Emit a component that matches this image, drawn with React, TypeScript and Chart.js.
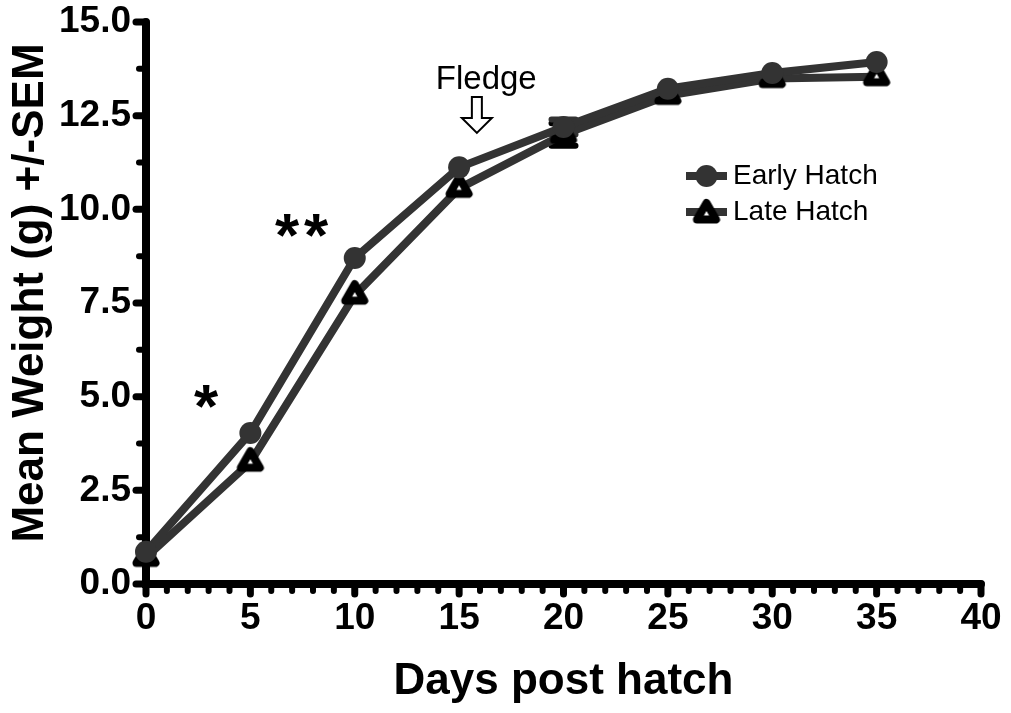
import React, { useEffect, useRef } from 'react';
import { Chart, registerables } from 'chart.js';

Chart.register(...registerables);

// Sampling days and mean body weight (g) per hatch group
const days = [0, 5, 10, 15, 20, 25, 30, 35];
const earlyHatch = [0.86, 4.03, 8.7, 11.12, 12.2, 13.22, 13.64, 13.93];
const lateHatch = [0.71, 3.25, 7.71, 10.56, 12.0, 13.04, 13.49, 13.54];
// SEM per point (0 = bar hidden under the marker)
const earlySem = [0, 0, 0, 0, 0.2, 0, 0, 0];
const lateSem = [0, 0, 0, 0, 0.3, 0, 0, 0];

const seriesNames = ['Early Hatch', 'Late Hatch'];
const xTitle = 'Days post hatch';
const yTitle = 'Mean Weight (g) +/-SEM';

// Significance marks: text, day, weight at text baseline
const sigMarks: [string, number, number][] = [
  ['*', 3, 4.2],
  ['**', 7.45, 8.75],
];
// Fledging annotation: label and arrow (day, arrow top value, arrow tip value)
const fledgeLabel = 'Fledge';
const fledgeLabelAt = [16.3, 13.2];
const fledgeArrow = [15.85, 13.0, 12.04];

const FONT = '"Liberation Sans", Arial, Helvetica, sans-serif';
const LINE_GREY = '#333333';

function makeTriangle(r: number, w: number): HTMLCanvasElement {
  const size = Math.ceil(2 * (r + w));
  const c = document.createElement('canvas');
  c.width = size;
  c.height = size;
  const g = c.getContext('2d')!;
  const cx = size / 2;
  const cy = size / 2;
  g.beginPath();
  for (let i = 0; i < 3; i++) {
    const a = (i * 2 * Math.PI) / 3;
    const px = cx + Math.sin(a) * r;
    const py = cy - Math.cos(a) * r;
    if (i === 0) g.moveTo(px, py);
    else g.lineTo(px, py);
  }
  g.closePath();
  g.fillStyle = '#ffffff';
  g.fill();
  g.lineJoin = 'round';
  g.lineWidth = w;
  g.strokeStyle = '#000000';
  g.stroke();
  return c;
}

const isMultiple = (v: number, step: number) =>
  Math.abs(v / step - Math.round(v / step)) < 1e-6;

export default function App() {
  const canvasRef = useRef<HTMLCanvasElement | null>(null);

  useEffect(() => {
    const canvas = canvasRef.current;
    if (!canvas) return;
    const tri = makeTriangle(11, 8);

    const axesPlugin = {
      id: 'axesAndErrors',
      beforeDatasetsDraw(chart: any) {
        const { ctx, chartArea, scales } = chart;
        const { left, right, top, bottom } = chartArea;
        const x = scales.x;
        const y = scales.y;
        ctx.save();
        ctx.strokeStyle = '#000';
        ctx.lineCap = 'round';
        // x ticks
        x.ticks.forEach((t: any) => {
          const px = x.getPixelForValue(t.value);
          const major = isMultiple(t.value, 5);
          ctx.lineWidth = major ? 7 : 6;
          ctx.beginPath();
          ctx.moveTo(px, bottom);
          ctx.lineTo(px, bottom + (major ? 10 : 7));
          ctx.stroke();
        });
        // y ticks
        y.ticks.forEach((t: any) => {
          const py = y.getPixelForValue(t.value);
          const major = isMultiple(t.value, 2.5);
          ctx.lineWidth = major ? 7 : 6;
          ctx.beginPath();
          ctx.moveTo(left, py);
          ctx.lineTo(left - (major ? 10 : 7), py);
          ctx.stroke();
        });
        // axis lines
        ctx.lineWidth = 8;
        ctx.lineJoin = 'miter';
        ctx.beginPath();
        ctx.moveTo(left, top);
        ctx.lineTo(left, bottom);
        ctx.lineTo(right, bottom);
        ctx.stroke();

        // SEM error bars
        const drawErr = (vals: number[], sem: number[], color: string) => {
          ctx.strokeStyle = color;
          ctx.lineWidth = 6;
          ctx.lineCap = 'round';
          days.forEach((d, i) => {
            if (!sem[i]) return;
            const px = x.getPixelForValue(d);
            const hi = y.getPixelForValue(vals[i] + sem[i]);
            const lo = y.getPixelForValue(vals[i] - sem[i]);
            ctx.beginPath();
            ctx.moveTo(px, hi);
            ctx.lineTo(px, lo);
            ctx.moveTo(px - 12, hi);
            ctx.lineTo(px + 12, hi);
            ctx.moveTo(px - 12, lo);
            ctx.lineTo(px + 12, lo);
            ctx.stroke();
          });
        };
        drawErr(lateHatch, lateSem, '#000000');
        drawErr(earlyHatch, earlySem, LINE_GREY);
        ctx.restore();
      },
    };

    const notesPlugin = {
      id: 'notes',
      afterDraw(chart: any) {
        const { ctx, scales } = chart;
        const x = scales.x;
        const y = scales.y;
        ctx.save();

        // y-axis title
        ctx.save();
        ctx.translate(31, 293);
        ctx.rotate(-Math.PI / 2);
        ctx.font = `bold 44px ${FONT}`;
        ctx.fillStyle = '#000';
        ctx.textAlign = 'center';
        ctx.textBaseline = 'middle';
        ctx.fillText(yTitle, 0, 0);
        ctx.restore();

        // significance asterisks
        ctx.save();
        ctx.fillStyle = '#000';
        ctx.font = `bold 62px ${FONT}`;
        (ctx as any).letterSpacing = '5px';
        ctx.textAlign = 'center';
        ctx.textBaseline = 'alphabetic';
        sigMarks.forEach(([txt, d, v]) => {
          ctx.fillText(txt, x.getPixelForValue(d) + (txt.length > 1 ? 2.5 : 0), y.getPixelForValue(v));
        });
        ctx.restore();

        // fledge label
        ctx.fillStyle = '#000';
        ctx.textAlign = 'center';
        ctx.textBaseline = 'alphabetic';
        ctx.font = `33px ${FONT}`;
        ctx.fillText(
          fledgeLabel,
          x.getPixelForValue(fledgeLabelAt[0]),
          y.getPixelForValue(fledgeLabelAt[1])
        );

        // hollow down arrow
        const ax = x.getPixelForValue(fledgeArrow[0]);
        const aTop = y.getPixelForValue(fledgeArrow[1]);
        const aTip = y.getPixelForValue(fledgeArrow[2]);
        const headH = 15;
        const headW = 15;
        const stemW = 5;
        ctx.beginPath();
        ctx.moveTo(ax - stemW, aTop);
        ctx.lineTo(ax + stemW, aTop);
        ctx.lineTo(ax + stemW, aTip - headH);
        ctx.lineTo(ax + headW, aTip - headH);
        ctx.lineTo(ax, aTip);
        ctx.lineTo(ax - headW, aTip - headH);
        ctx.lineTo(ax - stemW, aTip - headH);
        ctx.closePath();
        ctx.fillStyle = '#fff';
        ctx.fill();
        ctx.lineWidth = 2;
        ctx.lineJoin = 'miter';
        ctx.strokeStyle = '#000';
        ctx.stroke();

        // legend
        const lx0 = 686;
        const lx1 = 727;
        const rows = [176, 212];
        rows.forEach((ry, i) => {
          ctx.strokeStyle = LINE_GREY;
          ctx.lineWidth = 8;
          ctx.lineCap = 'butt';
          ctx.beginPath();
          ctx.moveTo(lx0, ry);
          ctx.lineTo(lx1, ry);
          ctx.stroke();
          const mx = (lx0 + lx1) / 2;
          if (i === 0) {
            ctx.fillStyle = LINE_GREY;
            ctx.beginPath();
            ctx.arc(mx, ry, 11, 0, Math.PI * 2);
            ctx.fill();
          } else {
            ctx.drawImage(tri, mx - tri.width / 2, ry + 2 - tri.height / 2);
          }
          ctx.fillStyle = '#000';
          ctx.font = `28px ${FONT}`;
          ctx.textAlign = 'left';
          ctx.textBaseline = 'middle';
          ctx.fillText(seriesNames[i], 733, ry);
        });
        ctx.restore();
      },
    };

    const chart = new Chart(canvas, {
      type: 'line',
      data: {
        labels: days,
        datasets: [
          {
            label: seriesNames[0],
            data: days.map((d, i) => ({ x: d, y: earlyHatch[i] })),
            borderColor: LINE_GREY,
            borderWidth: 8,
            backgroundColor: LINE_GREY,
            pointStyle: 'circle',
            pointRadius: 11,
            pointBorderWidth: 0,
            pointBackgroundColor: LINE_GREY,
            tension: 0,
            clip: false as any,
          },
          {
            label: seriesNames[1],
            data: days.map((d, i) => ({ x: d, y: lateHatch[i] })),
            borderColor: LINE_GREY,
            borderWidth: 8,
            backgroundColor: '#ffffff',
            pointStyle: tri as any,
            pointRadius: 11,
            tension: 0,
            clip: false as any,
          },
        ],
      },
      options: {
        animation: false,
        responsive: true,
        maintainAspectRatio: false,
        layout: { padding: { top: 22, right: 30, left: 0, bottom: 0 } },
        plugins: {
          legend: { display: false },
          tooltip: { enabled: false },
        },
        scales: {
          x: {
            type: 'linear',
            min: 0,
            max: 40,
            afterFit: (s: any) => {
              s.height = 129;
              s.paddingLeft = 0;
              s.paddingRight = 0;
            },
            ticks: {
              stepSize: 1,
              autoSkip: false,
              maxRotation: 0,
              padding: 5,
              color: '#000',
              font: { family: FONT, size: 37, weight: 'bold' },
              callback: (v: any) => (isMultiple(Number(v), 5) ? String(v) : ''),
            },
            grid: {
              display: true,
              drawOnChartArea: false,
              drawTicks: true,
              tickLength: 8,
              color: 'rgba(0,0,0,0)',
            },
            border: { display: false },
            title: {
              display: true,
              text: xTitle,
              color: '#000',
              font: { family: FONT, size: 44, weight: 'bold' },
              padding: { top: 0, bottom: 5 },
            },
          },
          y: {
            type: 'linear',
            min: 0,
            max: 15,
            afterFit: (s: any) => {
              s.width = 146;
              s.paddingTop = 0;
              s.paddingBottom = 0;
            },
            ticks: {
              stepSize: 1.25,
              autoSkip: false,
              padding: 7,
              color: '#000',
              font: { family: FONT, size: 37, weight: 'bold' },
              callback: (v: any) =>
                isMultiple(Number(v), 2.5) ? Number(v).toFixed(1) : '',
            },
            grid: {
              display: true,
              drawOnChartArea: false,
              drawTicks: true,
              tickLength: 8,
              color: 'rgba(0,0,0,0)',
            },
            border: { display: false },
          },
        },
      },
      plugins: [axesPlugin, notesPlugin],
    });

    return () => chart.destroy();
  }, []);

  return (
    <div
      style={{
        position: 'absolute',
        left: 0,
        top: 0,
        width: 1011,
        height: 713,
        background: '#fff',
      }}
    >
      <canvas ref={canvasRef} />
    </div>
  );
}
